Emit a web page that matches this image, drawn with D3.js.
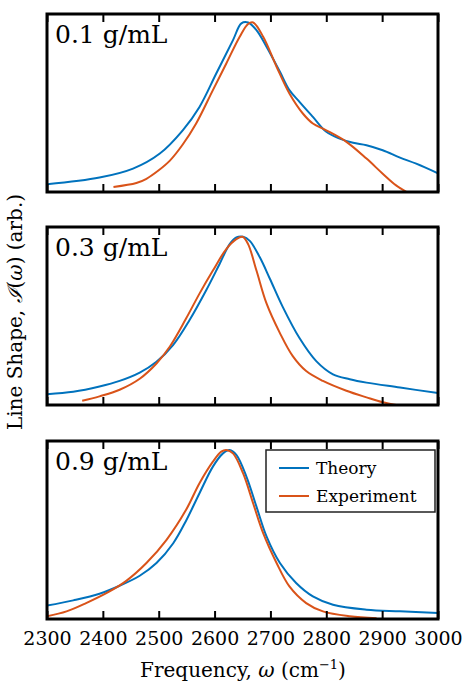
<!DOCTYPE html>
<html>
<head>
<meta charset="utf-8">
<script src="https://cdn.jsdelivr.net/npm/d3@7"></script>
<style>
  body { margin: 0; background: #fff; }
  svg text { font-family: "DejaVu Serif", serif; fill: #000; }
</style>
</head>
<body>
<div id="chart"></div>
<script>
'use strict';

// x axis ticks
const freqTicks = [2300, 2400, 2500, 2600, 2700, 2800, 2900, 3000];
const panelLabels = ['0.1 g/mL', '0.3 g/mL', '0.9 g/mL'];
const seriesNames = ['Theory', 'Experiment'];

// 0.1 g/mL
const theoryFreq1 = [2300, 2394, 2454, 2502, 2543, 2573, 2603, 2633, 2648, 2660, 2675, 2693, 2717, 2734, 2752, 2776, 2800, 2824, 2848, 2872, 2901, 2932, 2961, 3000];
const theoryVal1 = [0.045, 0.085, 0.138, 0.227, 0.364, 0.502, 0.699, 0.896, 0.995, 1.0, 0.955, 0.857, 0.709, 0.601, 0.532, 0.443, 0.355, 0.315, 0.290, 0.276, 0.246, 0.203, 0.167, 0.110];
const exptFreq1 = [2419, 2460, 2478, 2500, 2520, 2543, 2567, 2597, 2621, 2645, 2660, 2669, 2687, 2711, 2734, 2758, 2776, 2800, 2836, 2872, 2901, 2925, 2944];
const exptVal1 = [0.030, 0.053, 0.078, 0.128, 0.185, 0.280, 0.404, 0.601, 0.758, 0.916, 0.991, 1.0, 0.916, 0.739, 0.581, 0.463, 0.404, 0.364, 0.296, 0.197, 0.108, 0.039, 0.0];

// 0.3 g/mL
const theoryFreq3 = [2300, 2347, 2394, 2430, 2466, 2496, 2526, 2555, 2585, 2609, 2627, 2639, 2651, 2663, 2681, 2699, 2722, 2752, 2782, 2812, 2842, 2872, 2932, 3000];
const theoryVal3 = [0.064, 0.078, 0.109, 0.142, 0.191, 0.255, 0.355, 0.500, 0.677, 0.832, 0.949, 0.988, 0.992, 0.968, 0.871, 0.745, 0.579, 0.395, 0.259, 0.181, 0.152, 0.132, 0.103, 0.070];
const exptFreq3 = [2363, 2394, 2430, 2466, 2496, 2520, 2549, 2573, 2597, 2621, 2639, 2650, 2660, 2675, 2693, 2717, 2740, 2764, 2794, 2836, 2872, 2901, 2925];
const exptVal3 = [0.025, 0.051, 0.090, 0.155, 0.245, 0.345, 0.510, 0.657, 0.793, 0.920, 0.978, 0.992, 0.949, 0.793, 0.599, 0.424, 0.288, 0.200, 0.142, 0.084, 0.045, 0.016, 0.0];

// 0.9 g/mL
const theoryFreq9 = [2300, 2347, 2394, 2430, 2466, 2496, 2526, 2549, 2573, 2597, 2615, 2627, 2639, 2657, 2675, 2693, 2717, 2746, 2776, 2812, 2872, 2932, 3000];
const theoryVal9 = [0.079, 0.110, 0.149, 0.196, 0.255, 0.330, 0.447, 0.580, 0.742, 0.899, 0.977, 0.997, 0.968, 0.840, 0.663, 0.487, 0.330, 0.212, 0.133, 0.084, 0.055, 0.045, 0.035];
const exptFreq9 = [2300, 2335, 2370, 2412, 2442, 2478, 2514, 2549, 2573, 2597, 2612, 2621, 2633, 2651, 2669, 2687, 2711, 2734, 2764, 2794, 2842, 2890];
const exptVal9 = [0.016, 0.045, 0.094, 0.163, 0.225, 0.330, 0.467, 0.644, 0.801, 0.928, 0.987, 0.997, 0.977, 0.860, 0.683, 0.506, 0.330, 0.192, 0.094, 0.045, 0.016, 0.004];

const colors = ['#0072bd', '#d95319'];

const width = 462, height = 683;
const left = 47, right = 438;
const panelTops = [14, 227, 441];
const panelH = 178;

function pairs(fs, vs) {
  return fs.map(function(f, i) { return [f, vs[i]]; });
}

const panels = [
  { label: panelLabels[0], series: [pairs(theoryFreq1, theoryVal1), pairs(exptFreq1, exptVal1)] },
  { label: panelLabels[1], series: [pairs(theoryFreq3, theoryVal3), pairs(exptFreq3, exptVal3)] },
  { label: panelLabels[2], series: [pairs(theoryFreq9, theoryVal9), pairs(exptFreq9, exptVal9)] }
];

const svg = d3.select('#chart').append('svg')
  .attr('width', width)
  .attr('height', height);

const x = d3.scaleLinear().domain([2300, 3000]).range([left, right]);

panels.forEach(function(p, i) {
  const top = panelTops[i];
  const y = d3.scaleLinear().domain([0, 1.05]).range([top + panelH, top]);

  const g = svg.append('g');

  svg.append('clipPath').attr('id', 'clip' + i)
    .append('rect')
    .attr('x', left).attr('y', top)
    .attr('width', right - left).attr('height', panelH);

  const line = d3.line()
    .x(function(d) { return x(d[0]); })
    .y(function(d) { return y(d[1]); })
    .curve(d3.curveCatmullRom.alpha(0.5));

  g.selectAll('.curve')
    .data(p.series)
    .enter().append('path')
      .attr('class', 'curve')
      .attr('clip-path', 'url(#clip' + i + ')')
      .attr('d', line)
      .attr('fill', 'none')
      .attr('stroke', function(d, k) { return colors[k]; })
      .attr('stroke-width', 2);

  // inward ticks top and bottom
  const bottomAxis = d3.axisBottom(x).tickValues(freqTicks).tickSizeInner(-8).tickSizeOuter(0)
    .tickFormat(i === 2 ? d3.format('d') : '');
  const topAxis = d3.axisTop(x).tickValues(freqTicks).tickSizeInner(-8).tickSizeOuter(0).tickFormat('');

  const gb = g.append('g').attr('transform', 'translate(0,' + (top + panelH) + ')').call(bottomAxis);
  const gt = g.append('g').attr('transform', 'translate(0,' + top + ')').call(topAxis);
  [gb, gt].forEach(function(a) {
    a.select('.domain').remove();
    a.selectAll('line').attr('stroke', '#000').attr('stroke-width', 2);
  });
  gb.selectAll('text')
    .attr('y', 13)
    .style('font-family', '"DejaVu Serif", serif')
    .style('font-size', '19px')
    .attr('fill', '#000');

  g.append('rect')
    .attr('x', left).attr('y', top)
    .attr('width', right - left).attr('height', panelH)
    .attr('fill', 'none')
    .attr('stroke', '#000')
    .attr('stroke-width', 3);

  g.append('text')
    .attr('x', 55).attr('y', top + 29)
    .style('font-size', '25px')
    .text(p.label);
});

// legend in bottom panel
const lg = svg.append('g').attr('transform', 'translate(266,450)');
lg.append('rect')
  .attr('width', 169).attr('height', 62)
  .attr('fill', '#fff')
  .attr('stroke', '#222')
  .attr('stroke-width', 1.5);
seriesNames.forEach(function(name, k) {
  const yy = 18 + k * 28;
  lg.append('line')
    .attr('x1', 13).attr('x2', 43)
    .attr('y1', yy).attr('y2', yy)
    .attr('stroke', colors[k]).attr('stroke-width', 2);
  lg.append('text')
    .attr('x', 50).attr('y', yy + 6)
    .style('font-size', '17px')
    .text(name);
});

// axis titles
const xt = svg.append('text')
  .attr('x', 243).attr('y', 677)
  .attr('text-anchor', 'middle')
  .style('font-size', '20px');
xt.append('tspan').text('Frequency, ');
xt.append('tspan').style('font-style', 'italic').text('ω');
xt.append('tspan').text(' (cm');
xt.append('tspan').attr('dy', -8).style('font-size', '13px').text('−1');
xt.append('tspan').attr('dy', 8).text(')');

const yt = svg.append('text')
  .attr('transform', 'translate(22,' + 312 + ') rotate(-90)')
  .attr('text-anchor', 'middle')
  .style('font-size', '20px');
yt.append('tspan').text('Line Shape, ');
yt.append('tspan').style('font-style', 'italic').text('ℐ');
yt.append('tspan').text('(');
yt.append('tspan').style('font-style', 'italic').text('ω');
yt.append('tspan').text(') (arb.)');
</script>
</body>
</html>
